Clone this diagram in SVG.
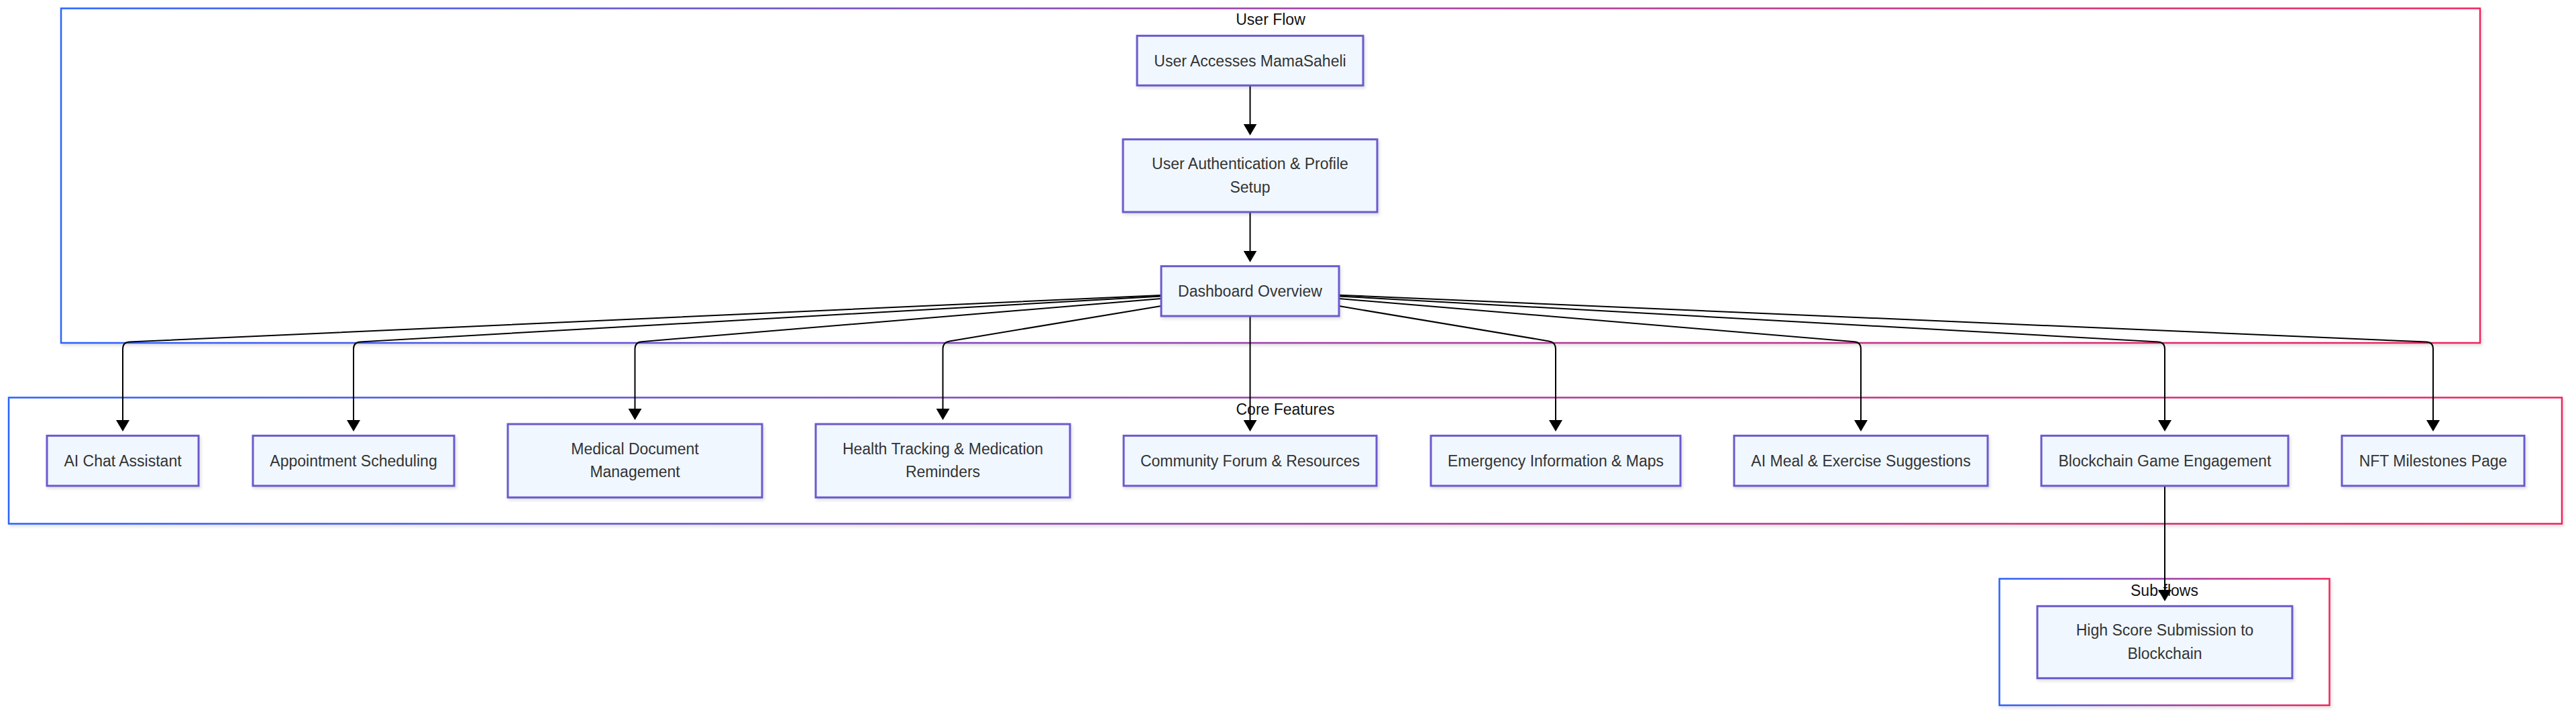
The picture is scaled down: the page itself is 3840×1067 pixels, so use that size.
<svg xmlns="http://www.w3.org/2000/svg" width="3840" height="1067" viewBox="0 0 3840 1067">
<style>
.node rect{fill:#f0f7ff;stroke:#6a5acd;stroke-width:3;filter:url(#shadow)}
.node text{font-family:"Liberation Sans",Arial,sans-serif;font-size:23px;fill:#333;text-anchor:middle}
.cluster rect{fill:#fff;stroke-width:2.5;filter:url(#shadow)}
.cluster text{font-family:"Liberation Sans",Arial,sans-serif;font-size:23px;fill:#111;text-anchor:middle}
.edges path{fill:none;stroke:#000;stroke-width:2;marker-end:url(#arrow)}
</style>
<defs>
<linearGradient id="cg" x1="0" y1="0" x2="1" y2="0">
<stop offset="0" stop-color="#2962ff"/>
<stop offset="0.5" stop-color="#9b3fa8"/>
<stop offset="1" stop-color="#f0245c"/>
</linearGradient>
<filter id="shadow" x="-5%" y="-5%" width="110%" height="120%">
<feDropShadow dx="2" dy="3" stdDeviation="2" flood-color="#000" flood-opacity="0.12"/>
</filter>
<marker id="arrow" markerUnits="userSpaceOnUse" markerWidth="18" markerHeight="20" viewBox="0 0 18 20" refX="9" refY="10" orient="auto">
<path d="M0,0 L17,10 L0,20 z" fill="#000"/>
</marker>
</defs>
<rect width="3840" height="1067" fill="#fff"/>

<g id="cluster-userflow" class="cluster">
<rect x="91" y="12.5" width="3606" height="498.5" stroke="url(#cg)"/>
<text x="1894" y="37">User Flow</text>
</g>
<g id="cluster-core" class="cluster">
<rect x="13" y="592.5" width="3806" height="188" stroke="url(#cg)"/>
<text x="1916" y="618">Core Features</text>
</g>
<g id="cluster-sub" class="cluster">
<rect x="2980.5" y="862.5" width="492" height="188.5" stroke="url(#cg)"/>
<text x="3226.5" y="887.5">Sub-flows</text>
</g>

<g id="edges" class="edges">
<path d="M1863.5,127.3 L1863.5,193.7"/>
<path d="M1863.5,316 L1863.5,382.7"/>
<path d="M1731,440 L193,509.5 Q183,510 183,520 L183,635"/>
<path d="M1731,441.5 L537,509.4 Q527,510 527,520 L527,635"/>
<path d="M1731,445 L956.5,509.2 Q946.5,510 946.5,520 L946.5,618"/>
<path d="M1731,456 L1415.4,508.4 Q1405.5,510 1405.5,520 L1405.5,618"/>
<path d="M1863.5,471 L1863.5,635"/>
<path d="M1996,456.1 L2309.1,508.4 Q2319,510 2319,520 L2319,635"/>
<path d="M1996,445.1 L2764,509.2 Q2774,510 2774,520 L2774,635"/>
<path d="M1996,441.4 L3217,509.4 Q3227,510 3227,520 L3227,635"/>
<path d="M1996,439.7 L3617,509.6 Q3627,510 3627,520 L3627,635"/>
<path d="M3227,724 L3227,888"/>
</g>

<g id="node-access" class="node">
<rect x="1695" y="53.3" width="337" height="74"/>
<text x="1863.5" y="98.5">User Accesses MamaSaheli</text>
</g>
<g id="node-auth" class="node">
<rect x="1674" y="207.7" width="379" height="108.3"/>
<text x="1863.5" y="252.3">User Authentication &amp; Profile</text>
<text x="1863.5" y="286.8">Setup</text>
</g>
<g id="node-dashboard" class="node">
<rect x="1731" y="396.7" width="265" height="74.3"/>
<text x="1863.5" y="442.2">Dashboard Overview</text>
</g>

<g id="node-aichat" class="node">
<rect x="70" y="649.3" width="226" height="74.7"/>
<text x="183" y="694.9">AI Chat Assistant</text>
</g>
<g id="node-appointment" class="node">
<rect x="377" y="649.3" width="300" height="74.7"/>
<text x="527" y="694.9">Appointment Scheduling</text>
</g>
<g id="node-medical" class="node">
<rect x="757" y="632" width="379" height="109.3"/>
<text x="946.5" y="677.3">Medical Document</text>
<text x="946.5" y="711.3">Management</text>
</g>
<g id="node-health" class="node">
<rect x="1216" y="632" width="379" height="109.3"/>
<text x="1405.5" y="677.3">Health Tracking &amp; Medication</text>
<text x="1405.5" y="711.3">Reminders</text>
</g>
<g id="node-community" class="node">
<rect x="1675" y="649.3" width="377" height="74.7"/>
<text x="1863.5" y="694.9">Community Forum &amp; Resources</text>
</g>
<g id="node-emergency" class="node">
<rect x="2133" y="649.3" width="372" height="74.7"/>
<text x="2319" y="694.9">Emergency Information &amp; Maps</text>
</g>
<g id="node-aimeal" class="node">
<rect x="2585" y="649.3" width="378" height="74.7"/>
<text x="2774" y="694.9">AI Meal &amp; Exercise Suggestions</text>
</g>
<g id="node-blockchain" class="node">
<rect x="3043" y="649.3" width="368" height="74.7"/>
<text x="3227" y="694.9">Blockchain Game Engagement</text>
</g>
<g id="node-nft" class="node">
<rect x="3491" y="649.3" width="272" height="74.7"/>
<text x="3627" y="694.9">NFT Milestones Page</text>
</g>
<g id="node-highscore" class="node">
<rect x="3037" y="903.3" width="380" height="107.4"/>
<text x="3227" y="946.8">High Score Submission to</text>
<text x="3227" y="981.8">Blockchain</text>
</g>
</svg>
